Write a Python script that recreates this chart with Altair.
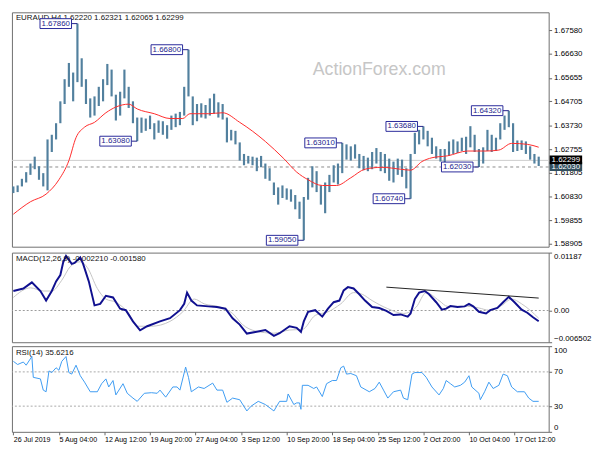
import json
import altair as alt
import pandas as pd

# ---------------- data ----------------
time_labels = ["26 Jul 2019", "5 Aug 04:00", "12 Aug 12:00", "19 Aug 20:00", "27 Aug 04:00",
               "3 Sep 12:00", "10 Sep 20:00", "18 Sep 04:00", "25 Sep 12:00", "2 Oct 20:00",
               "10 Oct 04:00", "17 Oct 12:00"]
label_bars = [0, 32, 64, 96, 128, 160, 192, 224, 256, 288, 320, 352]

price_high = [
    1.6124, 1.6128, 1.6155, 1.6182, 1.6217, 1.6245, 1.6206, 1.6178, 1.6315, 1.6334,
    1.6381, 1.6470, 1.6560, 1.6626, 1.6587, 1.6786, 1.6645, 1.6560, 1.6482, 1.6490,
    1.6529, 1.6560, 1.6622, 1.6599, 1.6497, 1.6509, 1.6599, 1.6529, 1.6470, 1.6404,
    1.6404, 1.6400, 1.6412, 1.6381, 1.6392, 1.6389, 1.6373, 1.6412, 1.6420, 1.6427,
    1.6529, 1.6680, 1.6490, 1.6459, 1.6462, 1.6455, 1.6482, 1.6501, 1.6466, 1.6459,
    1.6404, 1.6354, 1.6350, 1.6303, 1.6256, 1.6248, 1.6245, 1.6241, 1.6248, 1.6217,
    1.6198, 1.6140, 1.6120, 1.6128, 1.6116, 1.6112, 1.6089, 1.6062, 1.6081, 1.6159,
    1.6206, 1.6186, 1.6128, 1.6140, 1.6171, 1.6210, 1.6217, 1.6301, 1.6295, 1.6287,
    1.6295, 1.6256, 1.6248, 1.6241, 1.6264, 1.6280, 1.6264, 1.6256, 1.6237, 1.6225,
    1.6237, 1.6233, 1.6198, 1.6256, 1.6342, 1.6354, 1.6368, 1.6350, 1.6322, 1.6287,
    1.6276, 1.6276, 1.6307, 1.6315, 1.6307, 1.6322, 1.6326, 1.6369, 1.6334, 1.6276,
    1.6283, 1.6354, 1.6334, 1.6322, 1.6381, 1.6412, 1.6432, 1.6381, 1.6311, 1.6311,
    1.6307, 1.6287, 1.6256, 1.6245]
price_low = [
    1.6097, 1.6101, 1.6124, 1.6140, 1.6171, 1.6194, 1.6151, 1.6124, 1.6108, 1.6264,
    1.6315, 1.6381, 1.6459, 1.6529, 1.6470, 1.6548, 1.6529, 1.6459, 1.6404, 1.6412,
    1.6451, 1.6470, 1.6536, 1.6490, 1.6392, 1.6412, 1.6482, 1.6443, 1.6381, 1.6308,
    1.6342, 1.6350, 1.6357, 1.6315, 1.6342, 1.6334, 1.6318, 1.6354, 1.6365, 1.6373,
    1.6412, 1.6490, 1.6373, 1.6389, 1.6404, 1.6400, 1.6412, 1.6420, 1.6404, 1.6396,
    1.6303, 1.6311, 1.6295, 1.6229, 1.6210, 1.6217, 1.6210, 1.6186, 1.6202, 1.6155,
    1.6147, 1.6089, 1.6050, 1.6077, 1.6070, 1.6062, 1.6031, 1.5992, 1.5905, 1.6070,
    1.6120, 1.6101, 1.6050, 1.6015, 1.6101, 1.6140, 1.6132, 1.6178, 1.6233, 1.6229,
    1.6237, 1.6198, 1.6190, 1.6186, 1.6194, 1.6217, 1.6186, 1.6178, 1.6147, 1.6140,
    1.6171, 1.6163, 1.6116, 1.6074, 1.6256, 1.6295, 1.6315, 1.6287, 1.6256, 1.6237,
    1.6225, 1.6203, 1.6248, 1.6256, 1.6260, 1.6268, 1.6256, 1.6283, 1.6264, 1.6203,
    1.6217, 1.6268, 1.6264, 1.6268, 1.6315, 1.6354, 1.6365, 1.6264, 1.6268, 1.6272,
    1.6256, 1.6233, 1.6217, 1.6207]
price_bar = [3 * i for i in range(len(price_high))]

ma_bar = [0, 12, 23, 32, 39, 44, 50, 57, 65, 72, 81, 87, 99, 110, 119, 124, 137, 147, 159, 177,
          190, 199, 207, 217, 227, 237, 247, 259, 272, 279, 287, 294, 305, 319, 332, 341, 350, 361, 369]
ma_val = [1.60111, 1.60617, 1.60928, 1.61512, 1.62290, 1.63223, 1.63651, 1.63846, 1.64235, 1.64468,
          1.64585, 1.64390, 1.64196, 1.64001, 1.64001, 1.64196, 1.64196, 1.64235, 1.63846, 1.63068,
          1.62368, 1.61823, 1.61512, 1.61278, 1.61278, 1.61590, 1.61940, 1.62017, 1.61940, 1.61901,
          1.62251, 1.62406, 1.62484, 1.62679, 1.62679, 1.62718, 1.62990, 1.62951, 1.62834]

annot_bar = [45, 123, 87, 204, 231, 279, 288, 327, 348]
annot_price = [1.67860, 1.66800, 1.63080, 1.59050, 1.63010, 1.60740, 1.63680, 1.62030, 1.64320]

price_ticks = [1.67580, 1.66630, 1.65655, 1.64705, 1.63730, 1.62755, 1.61805, 1.60830, 1.59855, 1.58905]
last_close = 1.62299
level_line = 1.62030

macd_bar = [0, 7, 13, 19, 23, 27, 30, 33, 35, 37, 41, 43, 47, 49, 53, 57, 61, 65, 70, 75,
            79, 84, 89, 94, 103, 110, 117, 120, 122, 125, 129, 137, 143, 149, 154, 159, 164, 170, 177, 183,
            187, 194, 199, 202, 204, 207, 212, 217, 221, 225, 229, 232, 235, 239, 243, 247, 252, 257, 262, 267,
            272, 277, 279, 282, 285, 289, 292, 297, 301, 304, 307, 312, 317, 320, 323, 327, 332, 335, 340, 344,
            348, 352, 357, 361, 365, 369]
macd_val = [0.00400, 0.00451, 0.00577, 0.00400, 0.00204, 0.00400, 0.00597, 0.00727, 0.00990, 0.01120,
            0.00957, 0.00977, 0.01089, 0.00957, 0.00597, 0.00105, 0.00137, 0.00302, 0.00268, 0.00038,
            0.00007, -0.00223, -0.00406, -0.00322, -0.00223, -0.00158, 0.00007, 0.00137, 0.00367, 0.00204,
            0.00105, 0.00085, 0.00072, 0.00038, -0.00158, -0.00288, -0.00473, -0.00440, -0.00400, -0.00518,
            -0.00465, -0.00322, -0.00355, -0.00440, -0.00223, -0.00027, 0.00007, -0.00125, 0.00038, 0.00170,
            0.00204, 0.00412, 0.00479, 0.00451, 0.00333, 0.00204, 0.00072, 0.00052, -0.00007, -0.00092,
            -0.00080, -0.00125, -0.00060, 0.00235, 0.00367, 0.00400, 0.00333, 0.00170, 0.00019, 0.00038,
            0.00091, 0.00072, 0.00085, 0.00137, 0.00085, -0.00027, -0.00060, 0.00007, 0.00052, 0.00170,
            0.00282, 0.00170, 0.00019, -0.00046, -0.00139, -0.00221]
sig_bar = [0, 12, 21, 27, 34, 40, 47, 52, 59, 65, 72, 81, 87, 97, 110, 119, 127, 134, 145, 154,
           161, 170, 183, 194, 203, 212, 221, 230, 239, 245, 252, 263, 274, 283, 290, 299, 305, 319, 327, 334,
           343, 350, 357, 369]
sig_val = [0.00268, 0.00465, 0.00400, 0.00400, 0.00620, 0.00900, 0.01000, 0.00880, 0.00450, 0.00235,
           0.00170, -0.00060, -0.00322, -0.00322, -0.00223, -0.00027, 0.00235, 0.00137, 0.00072, -0.00060,
           -0.00288, -0.00420, -0.00465, -0.00400, -0.00387, -0.00100, -0.00027, 0.00137, 0.00367, 0.00333,
           0.00204, 0.00038, -0.00060, 0.00072, 0.00367, 0.00204, 0.00085, 0.00085, 0.00052, 0.00007,
           0.00105, 0.00235, 0.00137, -0.00158]
trend_bar = [262, 369]
trend_val = [0.00479, 0.00255]
macd_ticks = [0.01187, 0.0, -0.006502]

rsi_bar = [0, 3, 7, 9, 13, 14, 19, 21, 23, 25, 27, 30, 32, 34, 37, 39, 41, 44, 47, 50,
           54, 59, 62, 65, 67, 70, 72, 77, 80, 84, 87, 92, 97, 101, 103, 107, 112, 115, 117, 121,
           123, 125, 130, 134, 140, 143, 147, 150, 154, 159, 164, 167, 172, 177, 183, 187, 192, 193, 197, 199,
           201, 202, 203, 207, 211, 213, 217, 220, 224, 227, 230, 232, 234, 237, 241, 244, 250, 254, 257, 260,
           263, 267, 272, 274, 277, 280, 282, 287, 290, 294, 299, 302, 304, 307, 310, 314, 317, 320, 322, 327,
           328, 331, 334, 337, 341, 344, 347, 350, 354, 359, 362, 365, 369]
rsi_val = [82.3, 78.6, 81.5, 77.8, 87.9, 63.6, 61.8, 48.7, 46.8, 71.1, 69.2, 74.8, 71.9, 82.3, 87.9, 69.2, 67.4, 77.8, 65.5, 58.0,
           46.8, 46.8, 56.2, 61.8, 52.4, 59.9, 43.1, 56.2, 45.0, 39.4, 35.6, 45.0, 45.7, 45.0, 48.7, 40.5, 52.4, 52.4, 48.7, 75.6,
           63.6, 46.8, 52.4, 50.6, 56.9, 48.7, 48.7, 34.5, 39.4, 37.5, 24.4, 30.0, 35.6, 31.9, 24.4, 35.6, 35.6, 44.2, 31.9, 33.8,
           33.8, 26.3, 54.3, 54.3, 50.6, 52.4, 41.2, 56.2, 59.9, 59.9, 74.8, 76.7, 67.4, 68.1, 65.5, 52.4, 46.8, 50.6, 58.0, 48.7,
           39.4, 46.8, 48.7, 39.4, 37.5, 67.4, 69.2, 69.2, 63.6, 52.4, 43.1, 50.6, 59.9, 56.2, 52.4, 54.3, 58.0, 65.5, 52.4, 45.0,
           37.5, 46.8, 58.0, 50.6, 54.3, 67.4, 65.5, 52.4, 46.8, 46.8, 39.4, 35.6, 35.62]
rsi_levels = [30, 70]
rsi_ticks = [0, 30, 70, 100]

header_price = "EURAUD,H4  1.62220 1.62321 1.62065 1.62299"
header_macd = "MACD(12,26,9) -0.002210 -0.001580"
header_rsi = "RSI(14) 35.6216"
watermark = "ActionForex.com"

# ---------------- styling ----------------
FONT = "Liberation Sans"
BAR = "#52809e"
W = 545
H1, H2, H3 = 238, 91, 87
X_MAX = 376

xs = alt.Scale(domain=[-1, X_MAX], nice=False, zero=False)
ps = alt.Scale(domain=[1.58789, 1.68319], nice=False, zero=False)
ms = alt.Scale(domain=[-0.006502, 0.01187], nice=False, zero=False)
rs = alt.Scale(domain=[0, 100], nice=False, zero=False)

common_axis = dict(orient="right", tickSize=3, labelPadding=2, domain=False, grid=False,
                   labelFontSize=8, labelColor="#000000", tickColor="#666666",
                   labelFont=FONT, title=None)
price_axis = alt.Axis(values=price_ticks, format=".5f", **common_axis)
macd_axis = alt.Axis(values=macd_ticks, labelFlush=True,
                     labelExpr="datum.value == 0 ? '0.00' : (datum.value > 0 ? format(datum.value, '.5f') : format(datum.value, '.6f'))",
                     **common_axis)
rsi_axis = alt.Axis(values=rsi_ticks, labelFlush=True, format="d", **common_axis)
x_axis = alt.Axis(values=label_bars, labelExpr=json.dumps(time_labels) + "[round(datum.value/32)]",
                  labelAlign="left", tickSize=3, labelPadding=1, domain=False, grid=False,
                  labelFontSize=7.2, labelColor="#000000", tickColor="#666666", labelFont=FONT,
                  labelFlush=False, labelOverlap=False, title=None)


def PX(field="bar"):
    return alt.X(f"{field}:Q", scale=xs, axis=None)


def PY(field="price"):
    return alt.Y(f"{field}:Q", scale=ps, axis=price_axis)


# ---------------- main price panel ----------------
bars_df = pd.DataFrame({"bar": price_bar, "high": price_high, "low": price_low})
ma_df = pd.DataFrame({"bar": ma_bar, "price": ma_val})
ann_df = pd.DataFrame({"bar": annot_bar, "price": annot_price,
                       "label": [f"{p:.5f}" for p in annot_price]})
edge_df = pd.DataFrame({"bar": [X_MAX, X_MAX], "price": [level_line, last_close],
                        "label": [f"{level_line:.5f}", f"{last_close:.5f}"],
                        "fill": ["#33505f", "#000000"]})

wm = alt.Chart(pd.DataFrame({"bar": [257], "price": [1.6598], "t": [watermark]})).mark_text(
    fontSize=18, font=FONT, color="#c6c6c6", align="center", baseline="middle"
).encode(x=PX(), y=PY(), text="t:N")

bid_line = alt.Chart(pd.DataFrame({"price": [last_close]})).mark_rule(
    color="#cccccc", strokeWidth=1).encode(y=PY())
lvl_line = alt.Chart(pd.DataFrame({"price": [level_line]})).mark_rule(
    color="#8a8a8a", strokeWidth=1, strokeDash=[3, 3]).encode(y=PY())

bars = alt.Chart(bars_df).mark_rule(color=BAR, strokeWidth=2.2).encode(
    x=PX(), y=PY("low"), y2="high:Q")

ma = alt.Chart(ma_df).mark_line(color="#ff2b2b", strokeWidth=1, interpolate="monotone").encode(
    x=PX(), y=PY())

conn = alt.Chart(ann_df).mark_rule(color="#22228a", strokeWidth=1, xOffset=-6, x2Offset=0).encode(
    x=PX(), x2="bar:Q", y=PY())
boxes = alt.Chart(ann_df).mark_rect(fill="white", stroke="#2a2a9a", strokeWidth=1,
                                    xOffset=-38, x2Offset=-6, yOffset=-5, y2Offset=5).encode(
    x=PX(), x2="bar:Q", y=PY(), y2="price:Q")
ann_txt = alt.Chart(ann_df).mark_text(fontSize=8, font=FONT, color="#23238c", dx=-22,
                                      align="center", baseline="middle").encode(
    x=PX(), y=PY(), text="label:N")

edge_box = alt.Chart(edge_df).mark_rect(xOffset=1, x2Offset=34, yOffset=-5, y2Offset=4).encode(
    x=PX(), x2="bar:Q", y=PY(), y2="price:Q", color=alt.Color("fill:N", scale=None))
edge_txt = alt.Chart(edge_df).mark_text(fontSize=8, font=FONT, color="white", dx=3,
                                        align="left", baseline="middle").encode(
    x=PX(), y=PY(), text="label:N")

head1 = alt.Chart(pd.DataFrame({"t": [header_price]})).mark_text(
    fontSize=8, font=FONT, color="#111111", align="left", baseline="middle"
).encode(x=alt.value(4), y=alt.value(6), text="t:N")

main = alt.layer(wm, bid_line, lvl_line, bars, ma, head1, conn, boxes, ann_txt, edge_box, edge_txt).properties(
    width=W, height=H1)

# ---------------- MACD panel ----------------
def MY(field="v"):
    return alt.Y(f"{field}:Q", scale=ms, axis=macd_axis)


zero_line = alt.Chart(pd.DataFrame({"v": [0.0]})).mark_rule(
    color="#9a9a9a", strokeDash=[2, 2], strokeWidth=1).encode(y=MY())
sig = alt.Chart(pd.DataFrame({"bar": sig_bar, "v": sig_val})).mark_line(
    color="#c4c4c4", strokeWidth=1, interpolate="monotone").encode(x=PX(), y=MY())
macd_line = alt.Chart(pd.DataFrame({"bar": macd_bar, "v": macd_val})).mark_line(
    color="#10108f", strokeWidth=2).encode(x=PX(), y=MY())
trend = alt.Chart(pd.DataFrame({"bar": [trend_bar[0]], "bar2": [trend_bar[1]],
                                "v": [trend_val[0]], "v2": [trend_val[1]]})).mark_rule(
    color="#222222", strokeWidth=1).encode(x=PX(), x2="bar2:Q", y=MY(), y2="v2:Q")
head2 = alt.Chart(pd.DataFrame({"t": [header_macd]})).mark_text(
    fontSize=8, font=FONT, color="#111111", align="left", baseline="middle"
).encode(x=alt.value(4), y=alt.value(7), text="t:N")

macd = alt.layer(zero_line, sig, macd_line, trend, head2).properties(width=W, height=H2)

# ---------------- RSI panel ----------------
def RX():
    return alt.X("bar:Q", scale=xs, axis=x_axis)


def RY(field="v"):
    return alt.Y(f"{field}:Q", scale=rs, axis=rsi_axis)


lv = alt.Chart(pd.DataFrame({"v": rsi_levels})).mark_rule(
    color="#a8a8a8", strokeDash=[2, 2], strokeWidth=1).encode(y=RY())
rsi_line = alt.Chart(pd.DataFrame({"bar": rsi_bar, "v": rsi_val})).mark_line(
    color="#3d9bf2", strokeWidth=1).encode(x=RX(), y=RY())
head3 = alt.Chart(pd.DataFrame({"t": [header_rsi]})).mark_text(
    fontSize=8, font=FONT, color="#111111", align="left", baseline="middle"
).encode(x=alt.value(4), y=alt.value(7), text="t:N")

rsi = alt.layer(lv, rsi_line, head3).properties(width=W, height=H3)

chart = alt.vconcat(main, macd, rsi, spacing=2).properties(
    padding=0, background="white"
).configure_view(stroke="#6f6f6f", strokeWidth=1)

chart.save("out.html", embed_options={"renderer": "svg", "actions": False})
